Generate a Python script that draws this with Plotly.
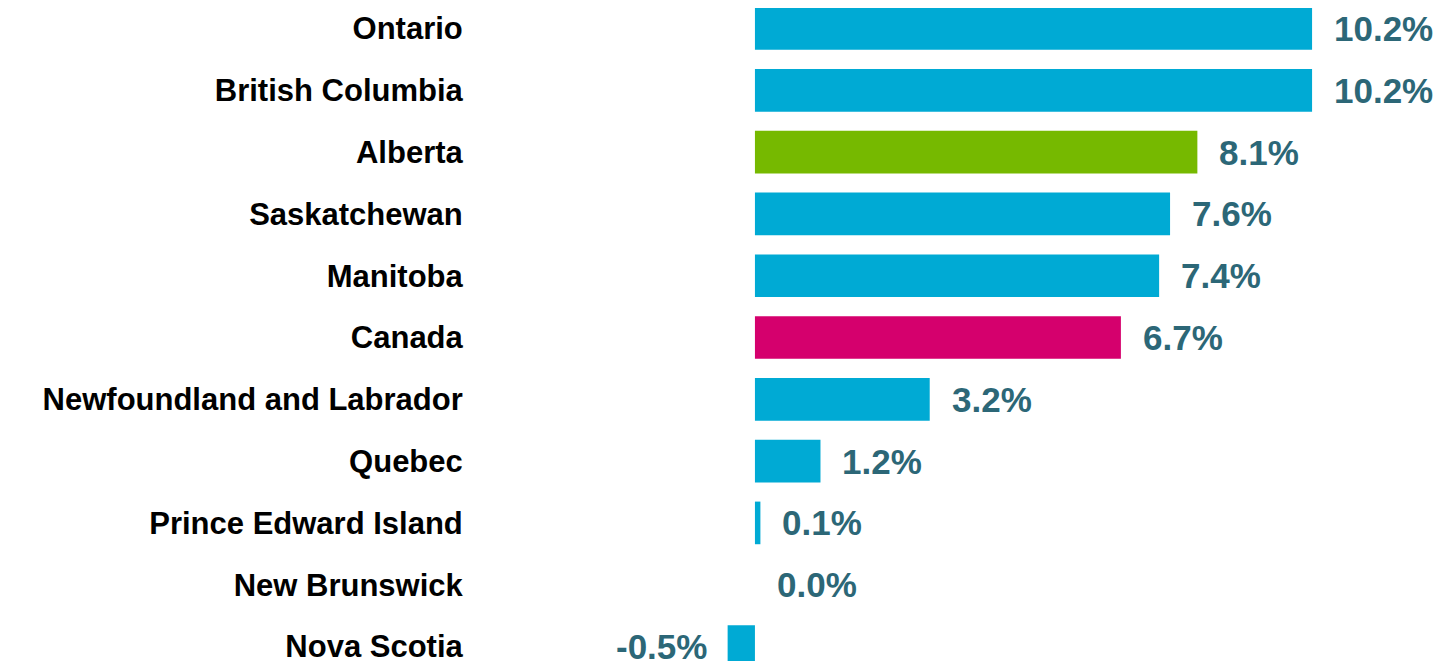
import plotly.graph_objects as go

provinces = ["Ontario", "British Columbia", "Alberta", "Saskatchewan", "Manitoba",
             "Canada", "Newfoundland and Labrador", "Quebec", "Prince Edward Island",
             "New Brunswick", "Nova Scotia"]
values = [10.2, 10.2, 8.1, 7.6, 7.4, 6.7, 3.2, 1.2, 0.1, 0.0, -0.5]

BLUE = "#00AAD4"
GREEN = "#76B900"
MAGENTA = "#D5006D"
TEXT_TEAL = "#2C6777"
highlight = {"Alberta": GREEN, "Canada": MAGENTA}
colors = [highlight.get(p, BLUE) for p in provinces]

fig = go.Figure(go.Bar(
    x=values, y=provinces, orientation="h",
    marker=dict(color=colors, line=dict(width=0)),
    hoverinfo="skip",
))

for p, v in zip(provinces, values):
    fig.add_annotation(
        x=v, y=p, xref="x", yref="y",
        text=f"{v:.1f}%", showarrow=False,
        xanchor="left" if v >= 0 else "right",
        xshift=20 if v >= 0 else -19,
        yanchor="middle",
        font=dict(family="Liberation Sans, Arial, sans-serif", size=35, color=TEXT_TEAL, weight="bold"),
    )

fig.update_layout(
    width=1451, height=661,
    margin=dict(l=464, r=0, t=0, b=0),
    paper_bgcolor="white", plot_bgcolor="white",
    bargap=0.31,
    showlegend=False,
    xaxis=dict(range=[-5.18, 12.89], visible=False, showgrid=False, zeroline=False),
    yaxis=dict(
        categoryorder="array", categoryarray=provinces,
        range=[10.364, -0.332],
        showgrid=False, zeroline=False, showline=False,
        ticks="outside", ticklen=2, tickcolor="rgba(0,0,0,0)",
        tickfont=dict(family="Liberation Sans, Arial, sans-serif", size=31, color="black", weight="bold"),
    ),
)

fig.write_html("out.html")
